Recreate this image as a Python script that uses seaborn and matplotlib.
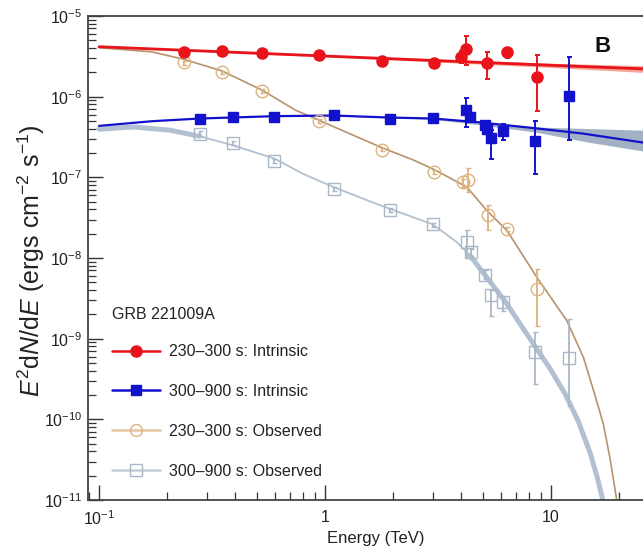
import numpy as np
import pandas as pd
import matplotlib
matplotlib.use("Agg")
import matplotlib.pyplot as plt
from matplotlib.lines import Line2D
from matplotlib.ticker import (FixedLocator, FixedFormatter, LogLocator, NullFormatter,
                               LogFormatterSciNotation)
import seaborn as sns

# ---------------- data ----------------
# 230-300 s intrinsic (red filled circles)
E_red = [0.238, 0.349, 0.528, 0.939, 1.78, 3.03, 4.01, 4.21, 5.2, 6.36, 8.64]
F_red = [3.60e-6, 3.67e-6, 3.44e-6, 3.28e-6, 2.78e-6, 2.63e-6, 3.12e-6, 3.86e-6, 2.58e-6, 3.54e-6, 1.76e-6]
red_lo = [3.4e-6, 3.45e-6, 3.25e-6, 3.1e-6, 2.62e-6, 2.48e-6, 2.6e-6, 2.46e-6, 1.64e-6, 2.98e-6, 6.6e-7]
red_hi = [3.8e-6, 3.9e-6, 3.65e-6, 3.48e-6, 2.95e-6, 2.8e-6, 3.7e-6, 5.64e-6, 3.6e-6, 3.97e-6, 3.28e-6]

# 300-900 s intrinsic (blue filled squares)
E_blue = [0.279, 0.390, 0.597, 1.09, 1.93, 3.0, 4.22, 4.37, 5.1, 5.2, 5.43, 6.15, 8.46, 11.97]
F_blue = [5.36e-7, 5.52e-7, 5.61e-7, 5.89e-7, 5.36e-7, 5.45e-7, 6.86e-7, 5.52e-7, 4.43e-7, 3.93e-7,
          3.11e-7, 3.80e-7, 2.80e-7, 1.01e-6]
blue_lo = [5.1e-7, 5.25e-7, 5.35e-7, 5.6e-7, 5.1e-7, 5.15e-7, 4.22e-7, 4.9e-7, 4.0e-7, 3.5e-7,
           1.71e-7, 2.88e-7, 1.11e-7, 2.94e-7]
blue_hi = [5.6e-7, 5.8e-7, 5.9e-7, 6.2e-7, 5.6e-7, 5.75e-7, 9.5e-7, 6.1e-7, 4.9e-7, 4.3e-7,
           3.84e-7, 4.55e-7, 5.0e-7, 3.12e-6]

# 230-300 s observed (tan open circles)
E_tan = [0.238, 0.349, 0.528, 0.939, 1.78, 3.03, 4.09, 4.28, 5.24, 6.39, 8.64]
F_tan = [2.66e-6, 2.0e-6, 1.18e-6, 5.0e-7, 2.21e-7, 1.16e-7, 8.74e-8, 9.18e-8, 3.40e-8, 2.31e-8, 4.14e-9]
tan_lo = [2.5e-6, 1.9e-6, 1.12e-6, 4.75e-7, 2.1e-7, 1.1e-7, 7.5e-8, 6.57e-8, 2.2e-8, 2.15e-8, 1.45e-9]
tan_hi = [2.8e-6, 2.1e-6, 1.24e-6, 5.25e-7, 2.32e-7, 1.22e-7, 9.5e-8, 1.32e-7, 4.49e-8, 2.45e-8, 7.34e-9]

# 300-900 s observed (grey open squares)
E_gray = [0.279, 0.390, 0.597, 1.09, 1.93, 3.0, 4.24, 4.41, 5.1, 5.42, 6.11, 8.45, 11.99]
F_gray = [3.49e-7, 2.70e-7, 1.59e-7, 7.16e-8, 3.93e-8, 2.61e-8, 1.59e-8, 1.18e-8, 6.21e-9, 3.52e-9,
          2.83e-9, 6.76e-10, 5.81e-10]
gray_lo = [3.3e-7, 2.55e-7, 1.5e-7, 6.8e-8, 3.7e-8, 2.45e-8, 9.86e-9, 1.05e-8, 5.5e-9, 1.93e-9,
           2.18e-9, 2.74e-10, 1.47e-10]
gray_hi = [3.7e-7, 2.85e-7, 1.68e-7, 7.5e-8, 4.15e-8, 2.75e-8, 2.24e-8, 1.3e-8, 7.0e-9, 4.0e-9,
           3.2e-9, 1.20e-9, 1.76e-9]

# model curves
mE_red = [0.1, 1.0, 10.0, 25.5]
mF_red = [4.16e-6, 3.19e-6, 2.45e-6, 2.21e-6]
mF_red_lo = [4.10e-6, 3.12e-6, 2.30e-6, 2.00e-6]
mF_red_hi = [4.22e-6, 3.26e-6, 2.60e-6, 2.42e-6]

mE_blue = [0.1, 0.171, 0.279, 0.597, 1.09, 1.93, 3.0, 4.61, 7.98, 13.8, 25.5]
mF_blue = [4.34e-7, 4.96e-7, 5.36e-7, 5.73e-7, 5.84e-7, 5.51e-7, 5.36e-7, 4.86e-7, 4.14e-7, 3.49e-7, 2.70e-7]
bandE_blue = [1.0, 3.0, 4.6, 8.5, 14.5, 25.5]
band_blue_lo = [5.80e-7, 5.25e-7, 4.55e-7, 3.65e-7, 2.74e-7, 2.12e-7]
band_blue_hi = [5.88e-7, 5.48e-7, 5.03e-7, 4.21e-7, 4.03e-7, 3.84e-7]

mE_tan = [0.1, 0.171, 0.2377, 0.3495, 0.528, 0.740, 0.939, 1.28, 1.78, 2.47, 3.02, 4.24, 5.19,
          6.37, 8.65, 11.74, 13.9, 15.66, 17.03, 18.24, 19.54]
mF_tan = [4.04e-6, 3.60e-6, 2.90e-6, 2.09e-6, 1.20e-6, 6.80e-7, 5.11e-7, 3.49e-7, 2.34e-7, 1.63e-7,
          1.26e-7, 7.58e-8, 3.89e-8, 2.20e-8, 5.77e-9, 1.67e-9, 5.86e-10, 1.96e-10, 8.7e-11,
          3.24e-11, 9.7e-12]

mE_gray = [0.1, 0.1427, 0.2057, 0.279, 0.390, 0.597, 0.796, 1.09, 1.54, 1.93, 3.0, 3.83, 4.38, 5.19,
           6.37, 8.35, 9.90, 11.53, 13.17, 14.88, 15.98, 16.99]
mF_gray = [3.95e-7, 4.21e-7, 3.84e-7, 3.23e-7, 2.50e-7, 1.71e-7, 1.11e-7, 7.58e-8, 5.18e-8, 4.08e-8,
           2.61e-8, 1.57e-8, 1.07e-8, 5.77e-9, 2.70e-9, 8.59e-10, 4.24e-10, 2.07e-10, 9.58e-11,
           3.84e-11, 1.93e-11, 9.7e-12]

x_ticks = [0.1, 1, 10]
x_ticklabels = ["$10^{-1}$", "1", "10"]
y_ticks = [1e-11, 1e-10, 1e-9, 1e-8, 1e-7, 1e-6, 1e-5]
legend_title = "GRB 221009A"
legend_labels = ["230\u2013300 s: Intrinsic", "300\u2013900 s: Intrinsic",
                 "230\u2013300 s: Observed", "300\u2013900 s: Observed"]

# ---------------- colours ----------------
C_RED = "#e8131b"
C_RED_BAND = "#f3a793"
C_BLUE = "#1212cc"
C_BLUE_BAND = "#a2b2c4"
C_TAN_PT = "#dcb27e"
C_TAN_LINE = "#b8926a"
C_GRAY_PT = "#aab7c7"
C_GRAY_LINE = "#b2c1d1"

# ---------------- style ----------------
sns.set_theme(style="ticks")
plt.rcParams["font.family"] = ["Liberation Sans", "DejaVu Sans"]
plt.rcParams["mathtext.fontset"] = "custom"
plt.rcParams["mathtext.rm"] = "Liberation Sans"
plt.rcParams["mathtext.it"] = "Liberation Sans:italic"
plt.rcParams["mathtext.bf"] = "Liberation Sans:bold"
plt.rcParams["axes.unicode_minus"] = True

fig = plt.figure(figsize=(6.43, 5.5), dpi=100)
ax = fig.add_axes([88 / 643, 50 / 550, 555 / 643, 484 / 550])
ax.set_xscale("log")
ax.set_yscale("log")

# ---------------- model curves ----------------
ax.fill_between(mE_red, mF_red_lo, mF_red_hi, color=C_RED_BAND, lw=0, zorder=1)
sns.lineplot(x=mE_red, y=mF_red, ax=ax, color=C_RED, lw=2.0, sort=False, estimator=None, zorder=3)

ax.fill_between(bandE_blue, band_blue_lo, band_blue_hi, color=C_BLUE_BAND, lw=0, zorder=1)
sns.lineplot(x=mE_blue, y=mF_blue, ax=ax, color=C_BLUE, lw=1.6, sort=False, estimator=None, zorder=3)

sns.lineplot(x=mE_gray, y=mF_gray, ax=ax, color=C_GRAY_LINE, lw=1.3, sort=False, estimator=None, zorder=2)
sns.lineplot(x=mE_gray[:4], y=mF_gray[:4], ax=ax, color=C_GRAY_LINE, lw=3.6, sort=False,
             estimator=None, zorder=2, solid_capstyle="round")
sns.lineplot(x=mE_gray[12:], y=mF_gray[12:], ax=ax, color=C_GRAY_LINE, lw=3.6, sort=False,
             estimator=None, zorder=2, solid_capstyle="round")

sns.lineplot(x=mE_tan, y=mF_tan, ax=ax, color=C_TAN_LINE, lw=1.2, sort=False, estimator=None, zorder=2)

# ---------------- data points ----------------
def yerr(f, lo, hi):
    f = np.asarray(f); lo = np.asarray(lo); hi = np.asarray(hi)
    return np.vstack([f - lo, hi - f])

ax.errorbar(E_gray, F_gray, yerr=yerr(F_gray, gray_lo, gray_hi), fmt="s", ms=8.5, mfc="none",
            mec=C_GRAY_PT, mew=1.0, ecolor=C_GRAY_PT, elinewidth=1.3, capsize=1.8, capthick=1.3, zorder=4)
ax.errorbar(E_tan, F_tan, yerr=yerr(F_tan, tan_lo, tan_hi), fmt="o", ms=9, mfc="none",
            mec=C_TAN_PT, mew=1.0, ecolor=C_TAN_PT, elinewidth=1.3, capsize=1.8, capthick=1.3, zorder=4)
ax.errorbar(E_blue, F_blue, yerr=yerr(F_blue, blue_lo, blue_hi), fmt="s", ms=7.5, mfc=C_BLUE,
            mec=C_BLUE, ecolor=C_BLUE, elinewidth=1.4, capsize=1.8, capthick=1.4, zorder=5)
ax.errorbar(E_red, F_red, yerr=yerr(F_red, red_lo, red_hi), fmt="o", ms=8.0, mfc=C_RED,
            mec=C_RED, ecolor=C_RED, elinewidth=1.4, capsize=1.8, capthick=1.4, zorder=5)

# ---------------- axes ----------------
ax.set_xlim(0.0894, 25.5)
ax.set_ylim(1e-11, 1e-5)
ax.xaxis.set_major_locator(FixedLocator(x_ticks))
ax.xaxis.set_major_formatter(FixedFormatter(x_ticklabels))
ax.xaxis.set_minor_locator(LogLocator(base=10, subs=np.arange(2, 10), numticks=30))
ax.xaxis.set_minor_formatter(NullFormatter())
ax.yaxis.set_major_locator(FixedLocator(y_ticks))
ax.yaxis.set_major_formatter(LogFormatterSciNotation())
ax.yaxis.set_minor_locator(LogLocator(base=10, subs=np.arange(2, 10), numticks=30))
ax.yaxis.set_minor_formatter(NullFormatter())

ax.tick_params(which="major", direction="in", length=11, width=1.0, color="#333333",
               labelsize=11.5, labelcolor="#222222")
ax.tick_params(which="minor", direction="in", length=5.5, width=0.9, color="#333333")
ax.tick_params(axis="x", which="major", pad=7)
ax.tick_params(axis="y", which="major", pad=4)

for side in ["left", "bottom", "top"]:
    ax.spines[side].set_color("#444444")
    ax.spines[side].set_linewidth(1.3)
ax.spines["right"].set_visible(False)

ax.set_xlabel("Energy (TeV)", fontsize=12, color="#222222")
ax.xaxis.set_label_coords((376 - 88) / 555, -31 / 484)
ax.set_ylabel(r"$E^2$d$N$/d$E$ (ergs cm$^{-2}$ s$^{-1}$)", fontsize=18, color="#222222")
ax.yaxis.set_label_coords((47 - 88) / 555, 0.495)

# ---------------- legend ----------------
handles = [
    Line2D([], [], color=C_RED, lw=1.8, marker="o", ms=8.0, mfc=C_RED, mec=C_RED),
    Line2D([], [], color=C_BLUE, lw=1.8, marker="s", ms=7.5, mfc=C_BLUE, mec=C_BLUE),
    Line2D([], [], color="#e2c7a0", lw=1.8, marker="o", ms=8.5, mfc="none", mec=C_TAN_PT),
    Line2D([], [], color="#c3cedb", lw=1.8, marker="s", ms=8.5, mfc="none", mec=C_GRAY_PT),
]
leg = ax.legend(handles, legend_labels, title=legend_title, loc="upper left",
                bbox_to_anchor=(0.043, 0.399), frameon=False, fontsize=11.5,
                title_fontsize=11.5, alignment="left", handlelength=3.0,
                handletextpad=0.55, labelspacing=1.56, borderpad=0, borderaxespad=0)
for t in leg.get_texts():
    t.set_color("#222222")
leg.get_title().set_color("#222222")
leg._legend_box.sep = 16

fig.text(603 / 643, 1 - 46 / 550, "B", ha="center", va="center", fontsize=16, fontweight="bold",
         color="#111111")

fig.savefig("out.png", dpi=100)
